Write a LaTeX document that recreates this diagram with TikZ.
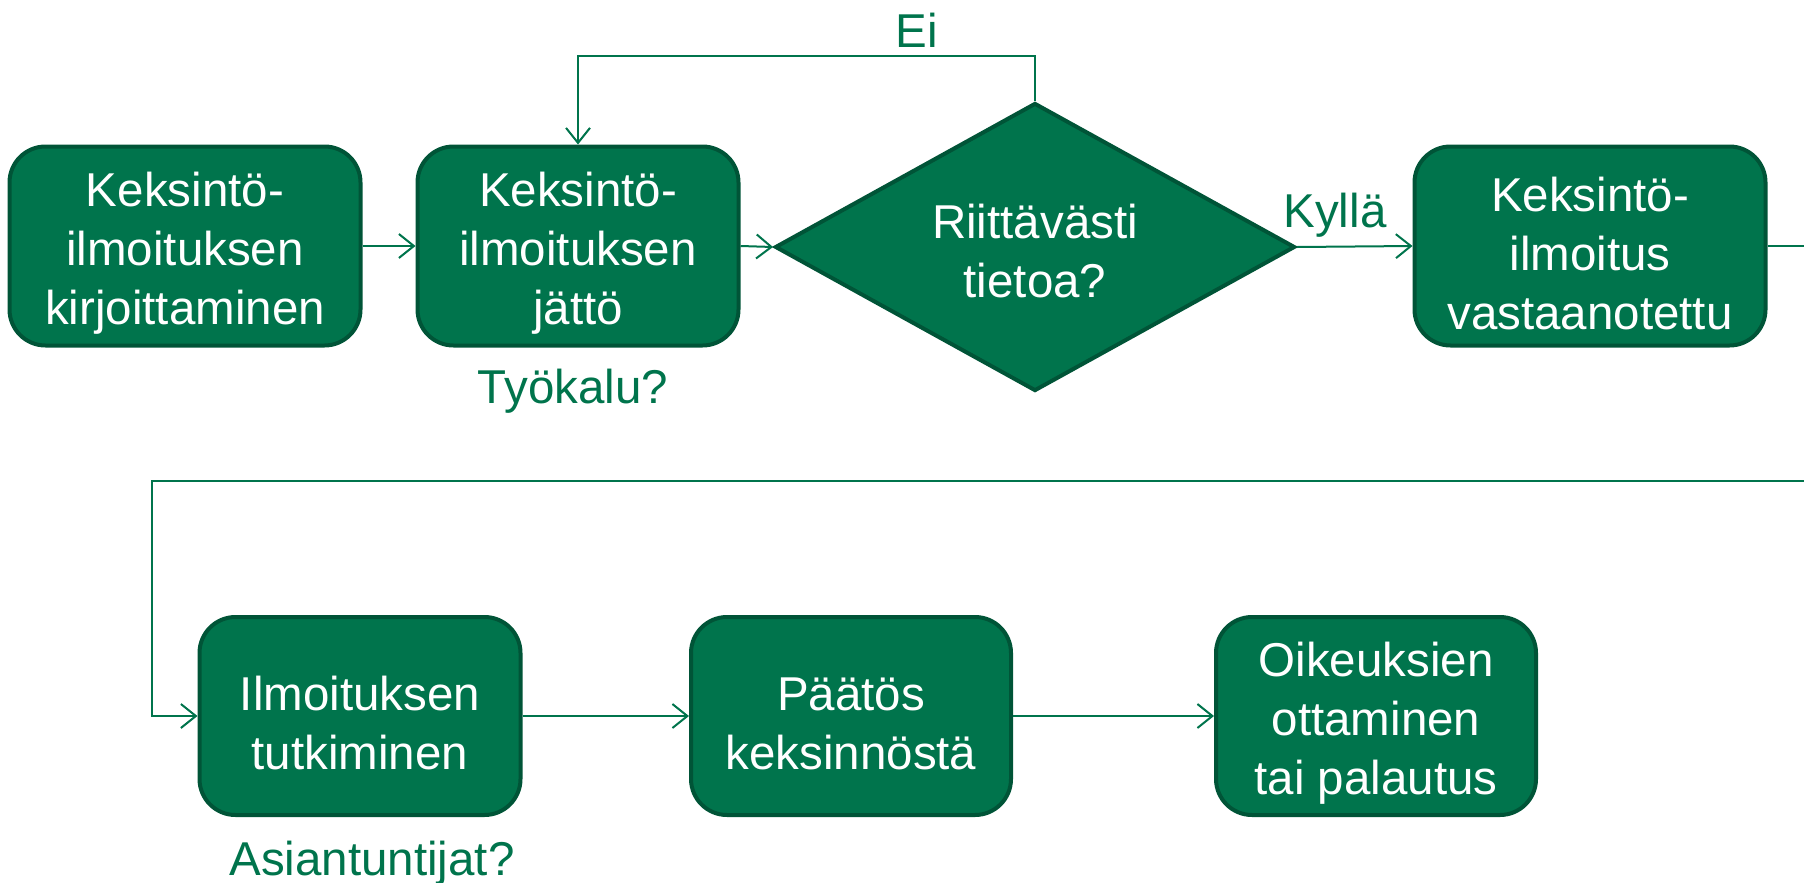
\documentclass[tikz,border=0pt]{standalone}
\usepackage{fontspec}
\setmainfont{Liberation Sans}
\usetikzlibrary{shapes.geometric,arrows.meta}
\definecolor{vihrea}{RGB}{0,116,76}
\definecolor{reuna}{RGB}{0,84,55}
\newcommand\tuki[1]{\rule{0pt}{#1}}
\tikzset{
  laatikko/.style={draw=reuna,fill=vihrea,line width=4pt,rounded corners=36pt,
    text=white,align=center,inner sep=0pt,minimum height=199pt},
  paatos/.style={diamond,aspect=1.8,draw=reuna,fill=vihrea,line width=4pt,text=white,
    align=center,inner sep=0pt,minimum width=520pt,minimum height=288pt},
  yhteys/.style={draw=vihrea,line width=2pt,-{Straight Barb[length=15pt,width=24pt]}},
  selite/.style={text=vihrea}
}
\begin{document}
\begin{tikzpicture}[x=1pt,y=-1pt,font=\fontsize{47.5}{59}\selectfont]
\useasboundingbox (0,0) rectangle (1804,883);
% ylarivi
\node[laatikko,minimum width=351pt] (b1) at (185,246) {\tuki{49pt}Keksintö-\\ilmoituksen\\kirjoittaminen};
\node[laatikko,minimum width=321pt] (b2) at (578,246) {\tuki{49pt}Keksintö-\\ilmoituksen\\jättö};
\node[paatos] (d) at (1035,247) {\tuki{42pt}Riittävästi\\tietoa?};
\node[laatikko,minimum width=351pt] (b3) at (1590,246) {\tuki{49pt}Keksintö-\\ilmoitus\\vastaanotettu};
% alarivi
\node[laatikko,minimum width=321pt,minimum height=198pt] (b4) at (360,716) {\tuki{49pt}Ilmoituksen\\tutkiminen};
\node[laatikko,minimum width=320pt,minimum height=198pt] (b5) at (851,716) {\tuki{49pt}Päätös\\keksinnöstä};
\node[laatikko,minimum width=320pt,minimum height=198pt] (b6) at (1376,716) {\tuki{49pt}Oikeuksien\\ottaminen\\tai palautus};
% selitteet
\node[selite] (tyokalu) at (573,391) {Työkalu?};
\node[selite] (asiantuntijat) at (372,863) {Asiantuntijat?};
\node[selite] (ei) at (917,30) {Ei};
\node[selite] (kylla) at (1335,215) {Kyllä};
\coordinate (oikea) at (1830,481);
\coordinate (vasen) at (152,481);
\draw[yhteys] (b1.east) -- (b2.west);
\draw[yhteys] (b2.east) -- (d.west);
\draw[yhteys] (d.east) -- (b3.west);
\draw[yhteys] (d.north) -- ++(0,-45) -| (b2.north);
\draw[yhteys] (b3.east) -| (oikea) -- (vasen) |- (b4.west);
\draw[yhteys] (b4.east) -- (b5.west);
\draw[yhteys] (b5.east) -- (b6.west);
\end{tikzpicture}
\end{document}
